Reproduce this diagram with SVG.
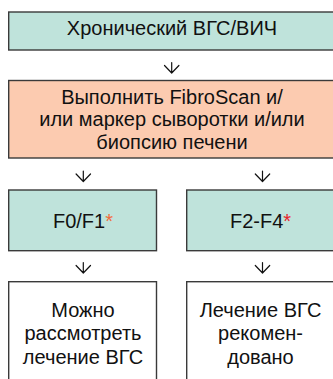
<svg xmlns="http://www.w3.org/2000/svg" width="333" height="379" viewBox="0 0 333 379">
  <style>
    .box { stroke: #3a3a3a; stroke-width: 1.4; }
    .teal { fill: #bfe3db; }
    .peach { fill: #fccbb0; }
    .plain { fill: #ffffff; }
    .label { font-family: "Liberation Sans", Arial, sans-serif; font-size: 20px; fill: #111111; text-anchor: middle; }
    .star-o { fill: #f26b3a; }
    .star-r { fill: #e8242b; }
    .arrow { fill: none; stroke: #111111; stroke-width: 1.2; stroke-linecap: round; stroke-linejoin: round; }
  </style>
  <rect x="0" y="0" width="333" height="379" fill="#ffffff"/>

  <g id="chronic">
    <rect class="box teal" x="8.7" y="12" width="330" height="38"/>
    <text class="label" x="172" y="34.5">Хронический ВГС/ВИЧ</text>
  </g>

  <g id="assess">
    <rect class="box peach" x="8.7" y="80.5" width="330" height="77.5"/>
    <text class="label" x="172" y="103.5">Выполнить FibroScan и/</text>
    <text class="label" x="172" y="126">или маркер сыворотки и/или</text>
    <text class="label" x="172" y="148.5">биопсию печени</text>
  </g>

  <g id="f0f1">
    <rect class="box teal" x="8.7" y="190" width="147.8" height="60.7"/>
    <text class="label" x="83" y="228">F0/F1<tspan class="star-o">*</tspan></text>
  </g>

  <g id="f2f4">
    <rect class="box teal" x="186.7" y="190" width="150" height="60.7"/>
    <text class="label" x="260.5" y="228">F2-F4<tspan class="star-r">*</tspan></text>
  </g>

  <g id="consider">
    <rect class="box plain" x="8.7" y="281.7" width="147.8" height="110"/>
    <text class="label" x="83" y="316.7">Можно</text>
    <text class="label" x="83" y="340">рассмотреть</text>
    <text class="label" x="83" y="364">лечение ВГС</text>
  </g>

  <g id="recommended">
    <rect class="box plain" x="186.7" y="281.7" width="150" height="110"/>
    <text class="label" x="260.5" y="316.7">Лечение ВГС</text>
    <text class="label" x="260.5" y="340">рекомен-</text>
    <text class="label" x="260.5" y="364">довано</text>
  </g>

  <g id="connectors">
    <path class="arrow" d="M171.7 62.5 V73 M164.5 65.5 L171.7 73 L178.9 65.5"/>
    <path class="arrow" d="M83.3 171 V181.5 M76.1 174 L83.3 181.5 L90.5 174"/>
    <path class="arrow" d="M262.5 171 V181.5 M255.3 174 L262.5 181.5 L269.7 174"/>
    <path class="arrow" d="M83.3 262.5 V273 M76.1 265.5 L83.3 273 L90.5 265.5"/>
    <path class="arrow" d="M262.5 262.5 V273 M255.3 265.5 L262.5 273 L269.7 265.5"/>
  </g>
</svg>
